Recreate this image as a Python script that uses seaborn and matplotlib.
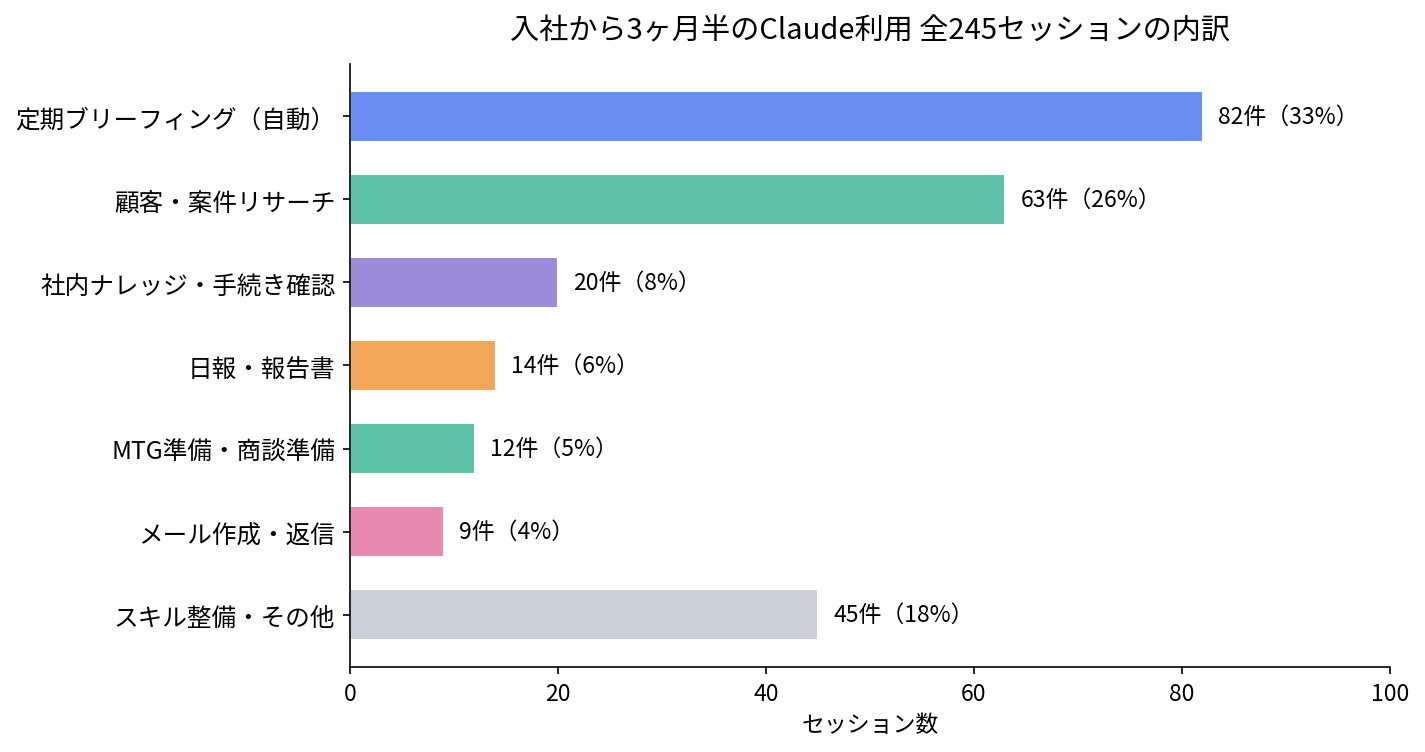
import pandas as pd
import matplotlib
matplotlib.use("Agg")
import matplotlib.pyplot as plt
import seaborn as sns

# data
categories = ['定期ブリーフィング（自動）', '顧客・案件リサーチ', '社内ナレッジ・手続き確認',
              '日報・報告書', 'MTG準備・商談準備', 'メール作成・返信', 'スキル整備・その他']
counts = [82, 63, 20, 14, 12, 9, 45]
percents = [33, 26, 8, 6, 5, 4, 18]
colors = ['#6B8EF3', '#5DC1A7', '#9B8CDA', '#F2A65A', '#5DC1A7', '#E88AAF', '#C9CED7']

sns.set_style("ticks")
plt.rcParams['font.family'] = ['Noto Sans CJK JP', 'DejaVu Sans']
plt.rcParams.update({'text.color': 'black', 'axes.labelcolor': 'black',
                     'axes.edgecolor': 'black', 'xtick.color': 'black',
                     'ytick.color': 'black'})

df = pd.DataFrame({'category': categories, 'count': counts})

fig, ax = plt.subplots(figsize=(9.5, 5.02), dpi=150)
sns.barplot(data=df, x='count', y='category', hue='category', palette=colors,
            order=categories, legend=False, width=0.62, saturation=1, ax=ax)

for i, (c, p) in enumerate(zip(counts, percents)):
    ax.text(c + 1.5, i, f'{c}件（{p}%）', va='center', ha='left', fontsize=11)

ax.set_xlim(0, 100)
ax.set_ylim(len(categories) - 1 + 0.63, -0.63)
ax.set_title('入社から3ヶ月半のClaude利用 全245セッションの内訳', fontsize=14, pad=12)
ax.set_xlabel('セッション数', fontsize=11)
ax.set_ylabel('')
ax.tick_params(axis='y', labelsize=11.8)
ax.tick_params(axis='x', labelsize=11)
sns.despine(ax=ax)

plt.subplots_adjust(left=0.2456, right=0.9754, top=0.9137, bottom=0.1129)
plt.savefig('out.png', dpi=150)
